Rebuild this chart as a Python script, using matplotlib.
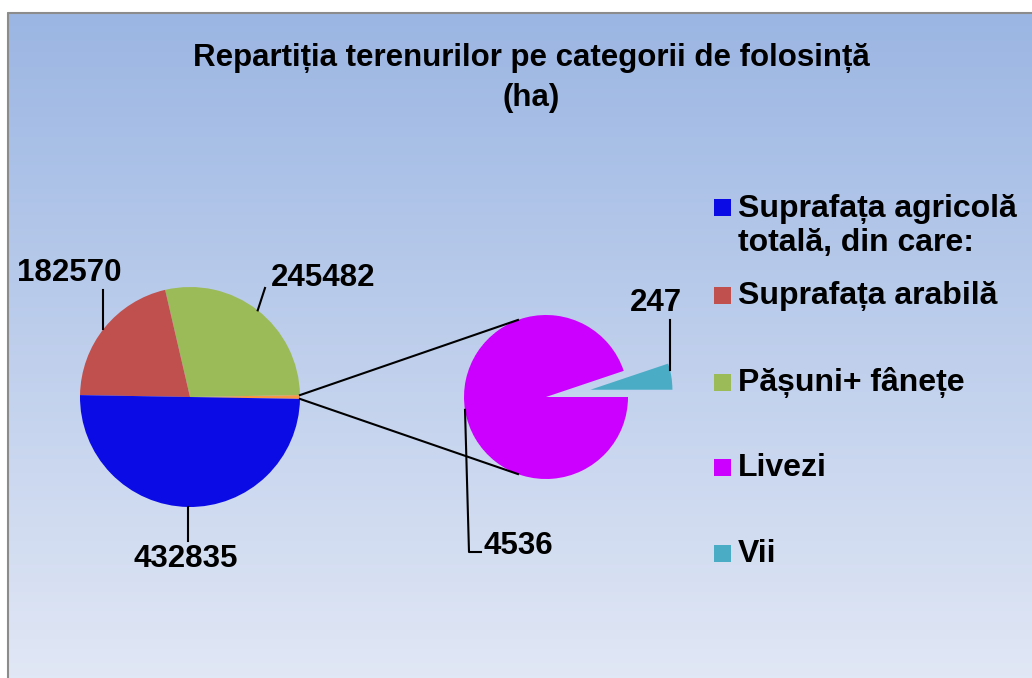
import numpy as np
import matplotlib.pyplot as plt
from matplotlib.patches import Rectangle

plt.rcParams['font.family'] = ['Liberation Sans', 'DejaVu Sans']
plt.rcParams['font.weight'] = 'bold'

# data (ha)
title = 'Repartiția terenurilor pe categorii de folosință\n(ha)'
labels = ['Suprafața agricolă\ntotală, din care:', 'Suprafața arabilă',
          'Pășuni+ fânețe', 'Livezi', 'Vii']
total_agri = 432835
arabil = 182570
pasuni = 245482
livezi = 4536
vii = 247
colors = ['#0B0BE6', '#C0504D', '#9BBB59', '#CC00FF', '#4BACC6']
other_color = '#F79646'

W, H = 1032, 678
fig = plt.figure(figsize=(W / 100, H / 100), dpi=100)
ax = fig.add_axes([0, 0, 1, 1])

# background gradient + border
grad = np.linspace(0, 1, 256)[:, None, None]
top = np.array([0.608, 0.714, 0.890])
bot = np.array([0.882, 0.906, 0.961])
img = top + (bot - top) * grad
ax.imshow(img, extent=(7, W, 0, H - 12), aspect='auto', zorder=0)
ax.plot([7.5, 7.5, W], [0, H - 12.5, H - 12.5], color='#8C8C8C', lw=1.5, zorder=1)

# main pie: the small "other" slice (livezi + vii) sits at the right
main_vals = [livezi + vii, pasuni, arabil, total_agri]
main_cols = [other_color, colors[2], colors[1], colors[0]]
cx1, cy1, r1 = 190, H - 397, 110
half_other = 180 * main_vals[0] / sum(main_vals)
w1, _ = ax.pie(main_vals, colors=main_cols, startangle=-half_other,
               center=(cx1, cy1), radius=r1, frame=True,
               wedgeprops=dict(linewidth=0))

# secondary pie
cx2, cy2, r2 = 546, H - 397, 82
sub_vals = [vii, livezi]
w2, _ = ax.pie(sub_vals, colors=[colors[4], colors[3]], startangle=0,
               explode=[45, 0], center=(cx2, cy2), radius=r2, frame=True,
               wedgeprops=dict(linewidth=0))

def on_circle(c, r, deg):
    a = np.deg2rad(deg)
    return c[0] + r * np.cos(a), c[1] + r * np.sin(a)

# connector lines
for s, t in [(half_other, 110), (-half_other, 250)]:
    p1 = on_circle((cx1, cy1), r1, s)
    p2 = on_circle((cx2, cy2), r2, t)
    ax.plot([p1[0], p2[0]], [p1[1], p2[1]], color='black', lw=1.5, zorder=3)

# data labels with leader lines
lab_kw = dict(fontsize=22.5, fontweight='bold', color='black', zorder=4)

def leader(pts):
    xs, ys = zip(*pts)
    ax.plot(xs, ys, color='black', lw=1.5, zorder=3)

a = on_circle((cx1, cy1), r1, 142)
leader([a, (a[0], H - 290)])
ax.text(69, H - 273, f'{arabil}', ha='center', va='center', **lab_kw)

a = on_circle((cx1, cy1), r1, 52)
leader([a, (265, H - 288)])
ax.text(323, H - 278, f'{pasuni}', ha='center', va='center', **lab_kw)

a = on_circle((cx1, cy1), r1, 269)
leader([a, (a[0], H - 541)])
ax.text(186, H - 559, f'{total_agri}', ha='center', va='center', **lab_kw)

a = on_circle((cx2, cy2), r2, 189)
leader([a, (469, H - 552), (481, H - 552)])
ax.text(484, H - 546, f'{livezi}', ha='left', va='center', **lab_kw)

vc = w2[0].center
a = on_circle(vc, r2, 14)
leader([a, (a[0], H - 320)])
ax.text(656, H - 303, f'{vii}', ha='center', va='center', **lab_kw)

# title
ax.text(531, H - 78, title, ha='center', va='center', fontsize=22.5,
        fontweight='bold', linespacing=1.45, zorder=4)

# legend
leg_y = [226, 296, 383, 468, 554]
sq_y = [207, 295, 382, 467, 553]
for lab, col, ty, sy in zip(labels, colors, leg_y, sq_y):
    ax.add_patch(Rectangle((714, H - sy - 8.5), 17, 17, facecolor=col,
                           edgecolor='none', zorder=4))
    ax.text(738, H - ty, lab, ha='left', va='center', fontsize=23,
            fontweight='bold', linespacing=1.15, zorder=4)

ax.set_xlim(0, W)
ax.set_ylim(0, H)
ax.axis('off')
fig.savefig('out.png', dpi=100, facecolor='white')
